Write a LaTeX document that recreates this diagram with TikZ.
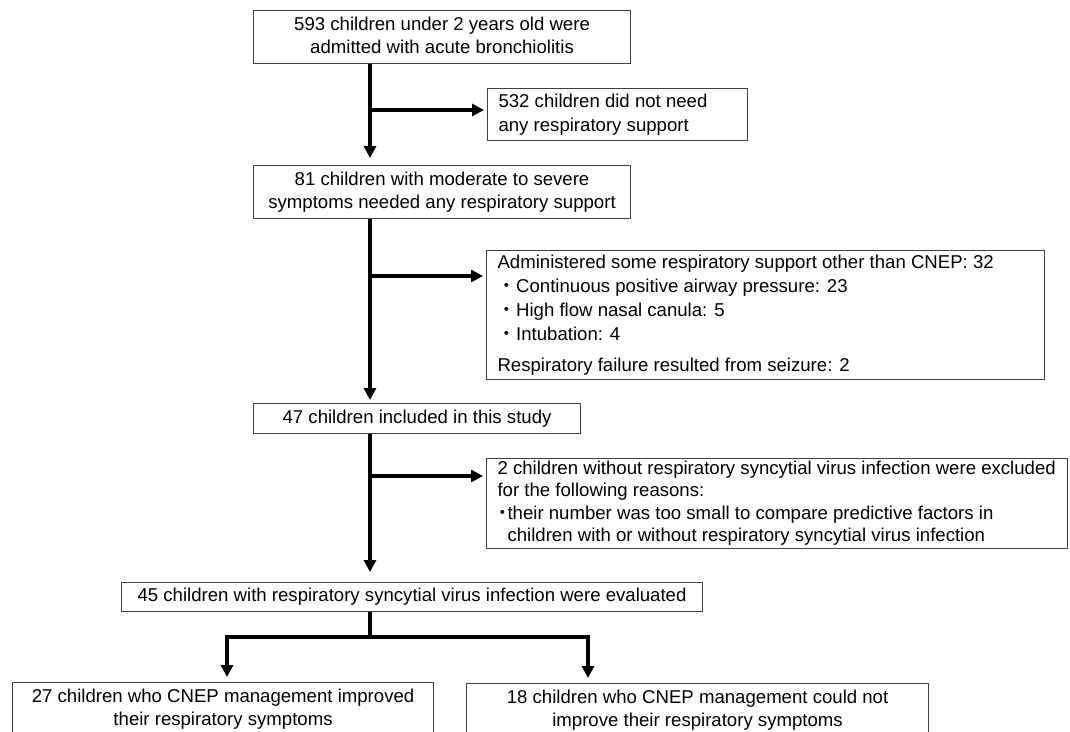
\documentclass[tikz,border=0pt]{standalone}
\usepackage{fontspec}
\setmainfont{Liberation Sans}
\newfontfamily\cjk{Noto Sans CJK JP}
\usetikzlibrary{arrows.meta}
\newcommand{\clines}[1]{\begin{tabular}{@{}c@{}}#1\end{tabular}}
\newcommand{\llines}[2]{\makebox[#1][l]{\begin{tabular}{@{}l@{}}#2\end{tabular}}}
\begin{document}
\begin{tikzpicture}[x=1pt,y=-1pt,
  box/.style={draw=black!75, line width=1.1pt, fill=white, inner sep=0pt, anchor=north west,
    font=\fontsize{18.6}{23}\selectfont},
  link/.style={line width=3.2pt, line join=miter},
  arr/.style={link, -{Triangle[length=12pt,width=12pt]}}]
\fill[white] (0,0) rectangle (1070,731);
\useasboundingbox (0,0) rectangle (1070,731);

\node[box, minimum width=377pt, minimum height=53pt] (b1) at (253,10)
  {\clines{593 children under 2 years old were\\admitted with acute bronchiolitis}};
\node[box, minimum width=260pt, minimum height=52pt, font=\fontsize{18.6}{24}\selectfont] (b532) at (487,88)
  {\llines{238pt}{532 children did not need\\any respiratory support}};
\node[box, minimum width=377pt, minimum height=53pt] (b2) at (253,165)
  {\clines{81 children with moderate to severe\\symptoms needed any respiratory support}};
\node[box, minimum width=558pt, minimum height=129pt, font=\fontsize{18.6}{24}\selectfont] (b3) at (486,250)
  {\llines{536pt}{Administered some respiratory support other than CNEP: 32\\
   {\cjk ・}Continuous positive airway pressure: 23\\
   {\cjk ・}High flow nasal canula: 5\\
   {\cjk ・}Intubation: 4\\[7pt]
   Respiratory failure resulted from seizure: 2}};
\node[box, minimum width=327pt, minimum height=30pt] (b47) at (253,403)
  {\clines{47 children included in this study}};
\node[box, minimum width=581pt, minimum height=89pt, font=\fontsize{18.6}{22.5}\selectfont] (b4) at (486,458)
  {\llines{559pt}{2 children without respiratory syncytial virus infection were excluded\\
   for the following reasons:\\
   \makebox[10pt][c]{\cjk ・}their number was too small to compare predictive factors in\\
   \hspace*{10pt}children with or without respiratory syncytial virus infection}};
\node[box, minimum width=581pt, minimum height=29pt] (b45) at (121,582)
  {\clines{45 children with respiratory syncytial virus infection were evaluated}};
\node[box, minimum width=421pt, minimum height=53pt] (bL) at (12,682)
  {\clines{27 children who CNEP management improved\\their respiratory symptoms}};
\node[box, minimum width=462pt, minimum height=53pt] (bR) at (466,683)
  {\clines{18 children who CNEP management could not\\improve their respiratory symptoms}};

\coordinate (T) at (370,0);
\coordinate (xL) at (227,0);
\coordinate (xR) at (588,0);
\coordinate (j1) at (370,110);
\coordinate (j2) at (370,276);
\coordinate (j3) at (370,476);
\coordinate (sp) at (370,637);

\draw[arr, shorten >=7pt] (b1.south -| T) -- (b2.north -| T);
\draw[arr, shorten >=3pt] (j1) -- (j1 -| b532.west);
\draw[arr, shorten >=3pt] (b2.south -| T) -- (b47.north -| T);
\draw[arr, shorten >=3pt] (j2) -- (j2 -| b3.west);
\draw[arr, shorten >=10pt] (b47.south -| T) -- (b45.north -| T);
\draw[arr, shorten >=3pt] (j3) -- (j3 -| b4.west);
\draw[link] (b45.south -| T) -- (sp);
\draw[arr, shorten >=5pt] (sp) -| (bL.north -| xL);
\draw[arr, shorten >=5pt] (sp) -| (bR.north -| xR);
\end{tikzpicture}
\end{document}
